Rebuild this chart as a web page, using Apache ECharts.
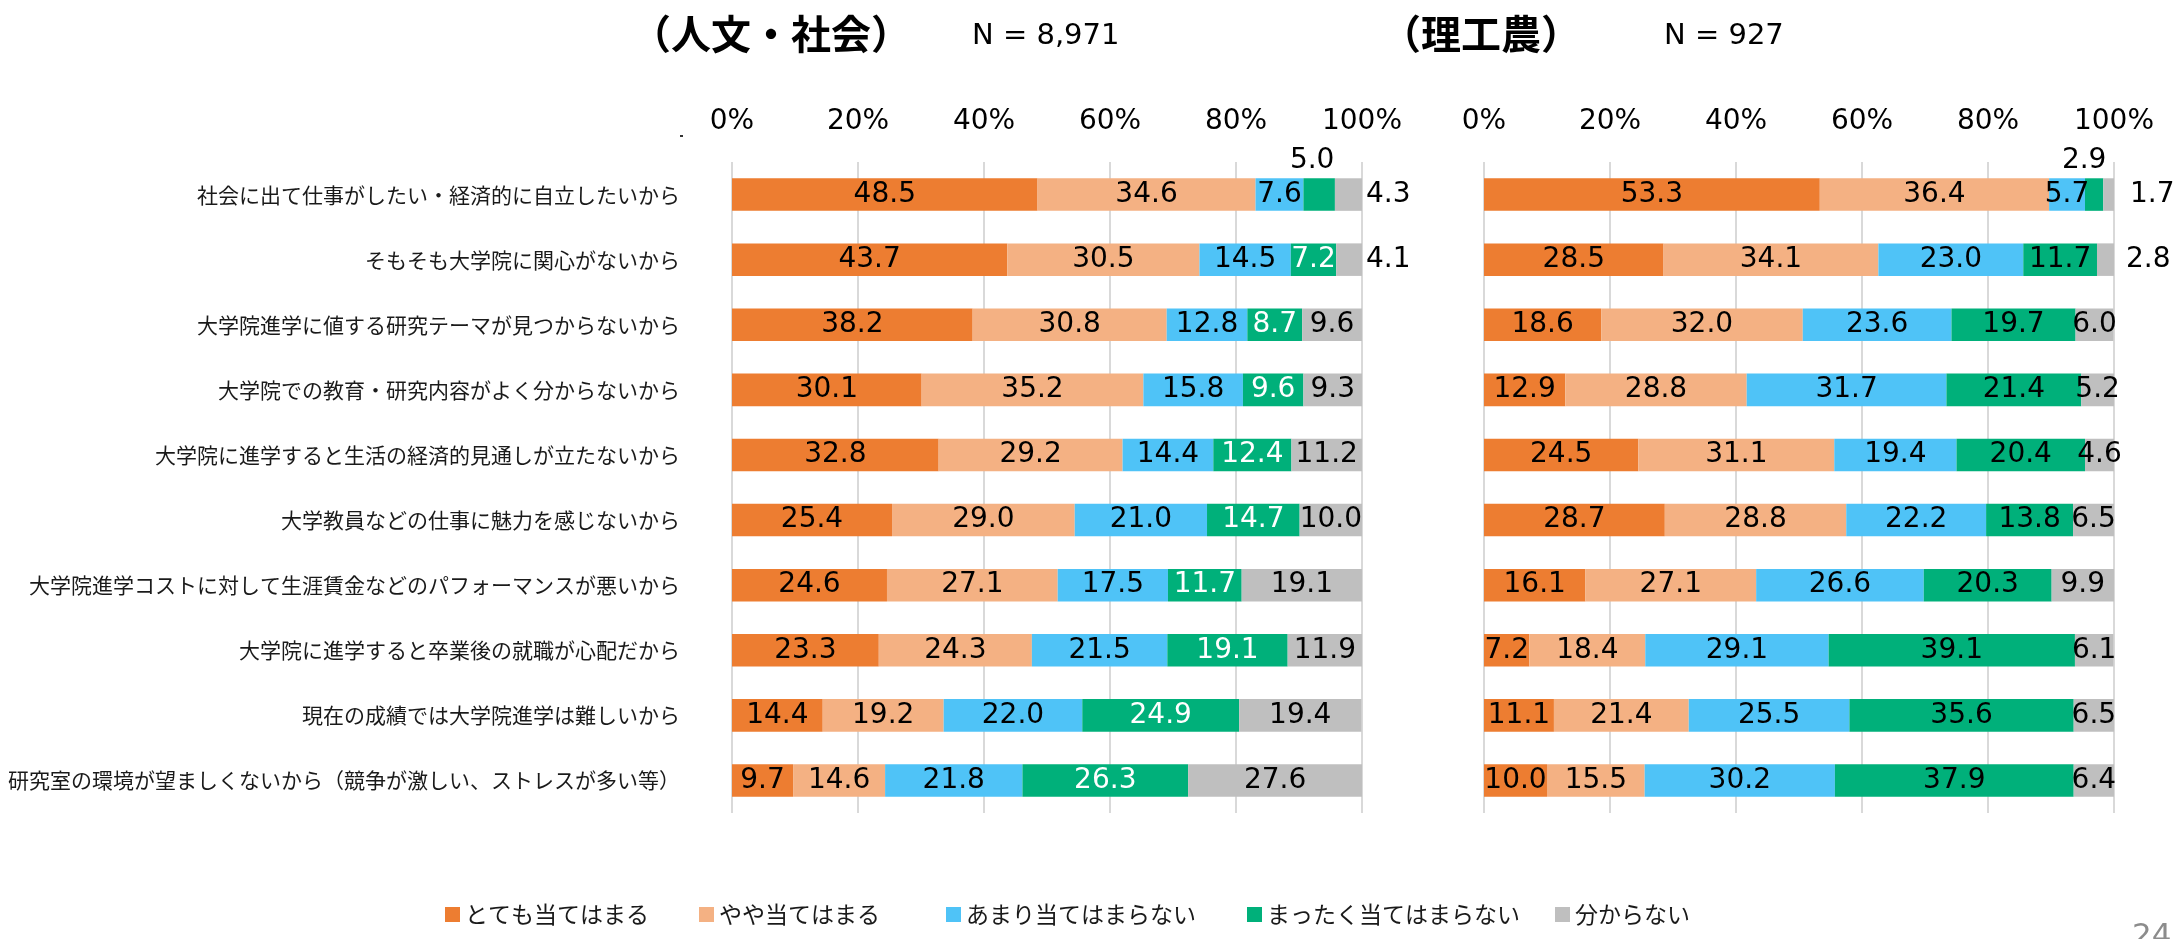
<!DOCTYPE html>
<html>
<head>
<meta charset="utf-8">
<script src="https://cdn.jsdelivr.net/npm/echarts@6/dist/echarts.min.js"></script>
<style>
  html, body { margin: 0; padding: 0; background: #fff; }
  #chart { width: 2178px; height: 939px; }
</style>
</head>
<body>
<div id="chart"></div>
<script>
// Reasons for not going on to graduate school, by field (100% stacked bars)
const categories = [
  '社会に出て仕事がしたい・経済的に自立したいから',
  'そもそも大学院に関心がないから',
  '大学院進学に値する研究テーマが見つからないから',
  '大学院での教育・研究内容がよく分からないから',
  '大学院に進学すると生活の経済的見通しが立たないから',
  '大学教員などの仕事に魅力を感じないから',
  '大学院進学コストに対して生涯賃金などのパフォーマンスが悪いから',
  '大学院に進学すると卒業後の就職が心配だから',
  '現在の成績では大学院進学は難しいから',
  '研究室の環境が望ましくないから（競争が激しい、ストレスが多い等）'
];

const seriesNames = ['とても当てはまる', 'やや当てはまる', 'あまり当てはまらない', 'まったく当てはまらない', '分からない'];

// 人文・社会 (N = 8,971)
const humVeryTrue     = [48.5, 43.7, 38.2, 30.1, 32.8, 25.4, 24.6, 23.3, 14.4, 9.7];
const humSomewhatTrue = [34.6, 30.5, 30.8, 35.2, 29.2, 29.0, 27.1, 24.3, 19.2, 14.6];
const humNotMuch      = [7.6, 14.5, 12.8, 15.8, 14.4, 21.0, 17.5, 21.5, 22.0, 21.8];
const humNotAtAll     = [5.0, 7.2, 8.7, 9.6, 12.4, 14.7, 11.7, 19.1, 24.9, 26.3];
const humUnknown      = [4.3, 4.1, 9.6, 9.3, 11.2, 10.0, 19.1, 11.9, 19.4, 27.6];

// 理工農 (N = 927)
const sciVeryTrue     = [53.3, 28.5, 18.6, 12.9, 24.5, 28.7, 16.1, 7.2, 11.1, 10.0];
const sciSomewhatTrue = [36.4, 34.1, 32.0, 28.8, 31.1, 28.8, 27.1, 18.4, 21.4, 15.5];
const sciNotMuch      = [5.7, 23.0, 23.6, 31.7, 19.4, 22.2, 26.6, 29.1, 25.5, 30.2];
const sciNotAtAll     = [2.9, 11.7, 19.7, 21.4, 20.4, 13.8, 20.3, 39.1, 35.6, 37.9];
const sciUnknown      = [1.7, 2.8, 6.0, 5.2, 4.6, 6.5, 9.9, 6.1, 6.5, 6.4];

const panelTitles = ['（人文・社会）', '（理工農）'];
const panelCounts = ['N = 8,971', 'N = 927'];

const colors = ['#ED7D31', '#F4B183', '#4FC3F7', '#00B07A', '#BFBFBF'];
const numFont = 'DejaVu Sans';
const jpFont = 'Noto Sans CJK JP';

// Thin segments whose value label sits outside the bar
const outsideLabels = [
  { panel: 0, s: 3, row: 0, label: { position: 'top', distance: 4, offset: [-7, 0], color: '#000' } },
  { panel: 0, s: 4, row: 0, label: { position: 'right', distance: 4 } },
  { panel: 0, s: 4, row: 1, label: { position: 'right', distance: 4 } },
  { panel: 1, s: 3, row: 0, label: { position: 'top', distance: 4, offset: [-10, 0], color: '#000' } },
  { panel: 1, s: 4, row: 0, label: { position: 'right', distance: 16 } },
  { panel: 1, s: 4, row: 1, label: { position: 'right', distance: 12 } }
];

const panels = [
  [humVeryTrue, humSomewhatTrue, humNotMuch, humNotAtAll, humUnknown],
  [sciVeryTrue, sciSomewhatTrue, sciNotMuch, sciNotAtAll, sciUnknown]
];

// Label colour on the dark-green segment differs between the panels
const greenLabelColor = ['#fff', '#000'];

const series = [];
panels.forEach((panel, p) => {
  panel.forEach((values, s) => {
    series.push({
      name: seriesNames[s],
      type: 'bar',
      stack: 'panel' + p,
      xAxisIndex: p,
      yAxisIndex: p,
      barWidth: '50%',
      itemStyle: { color: colors[s] },
      label: {
        show: true,
        position: 'inside',
        fontFamily: numFont,
        fontSize: 28,
        color: s === 3 ? greenLabelColor[p] : '#000',
        formatter: (d) => d.value.toFixed(1)
      },
      data: values.map((v, row) => {
        const o = outsideLabels.find(e => e.panel === p && e.s === s && e.row === row);
        return o ? { value: v, label: o.label } : v;
      })
    });
  });
});

const grids = [
  { left: 732, width: 630, top: 162, height: 651 },
  { left: 1484, width: 630, top: 162, height: 651 }
];

const xAxes = grids.map((g, i) => ({
  type: 'value',
  gridIndex: i,
  position: 'top',
  min: 0,
  max: 100,
  interval: 20,
  axisLine: { show: false },
  axisTick: { show: false },
  axisLabel: {
    margin: 26,
    fontFamily: numFont,
    fontSize: 28,
    color: '#000',
    formatter: '{value}%'
  },
  splitLine: { show: true, lineStyle: { color: '#D9D9D9', width: 2 } }
}));

const yAxes = grids.map((g, i) => ({
  type: 'category',
  gridIndex: i,
  inverse: true,
  data: categories,
  axisLine: { show: false },
  axisTick: { show: false },
  axisLabel: {
    show: i === 0,
    margin: 52,
    fontFamily: jpFont,
    fontSize: 21,
    color: '#1a1a1a'
  }
}));

// One legend entry per component so each key sits at its own spot
const legendLefts = [440, 694, 941, 1242, 1550];
const legends = seriesNames.map((name, i) => ({
  data: [name],
  left: legendLefts[i],
  top: 898,
  itemWidth: 15,
  itemHeight: 15,
  icon: 'rect',
  textStyle: { fontFamily: jpFont, fontSize: 23, color: '#1a1a1a' }
}));

const graphic = [
  { type: 'text', left: 631, top: 14, style: { text: panelTitles[0], font: 'bold 40px "Noto Sans CJK JP"', fill: '#000' } },
  { type: 'text', left: 972, top: 22, style: { text: panelCounts[0], font: '29px "DejaVu Sans"', fill: '#000' } },
  { type: 'text', left: 1381, top: 14, style: { text: panelTitles[1], font: 'bold 40px "Noto Sans CJK JP"', fill: '#000' } },
  { type: 'text', left: 1664, top: 22, style: { text: panelCounts[1], font: '29px "DejaVu Sans"', fill: '#000' } },
  { type: 'rect', left: 680, top: 135, shape: { width: 3, height: 2 }, style: { fill: '#333' } },
  { type: 'text', left: 2132, top: 921, style: { text: '24', font: '31px "DejaVu Sans"', fill: '#8C8C8C' } }
];

const chart = echarts.init(document.getElementById('chart'), null, { renderer: 'canvas' });
chart.setOption({
  animation: false,
  backgroundColor: '#fff',
  color: colors,
  grid: grids,
  xAxis: xAxes,
  yAxis: yAxes,
  legend: legends,
  graphic: graphic,
  series: series
});
</script>
</body>
</html>
